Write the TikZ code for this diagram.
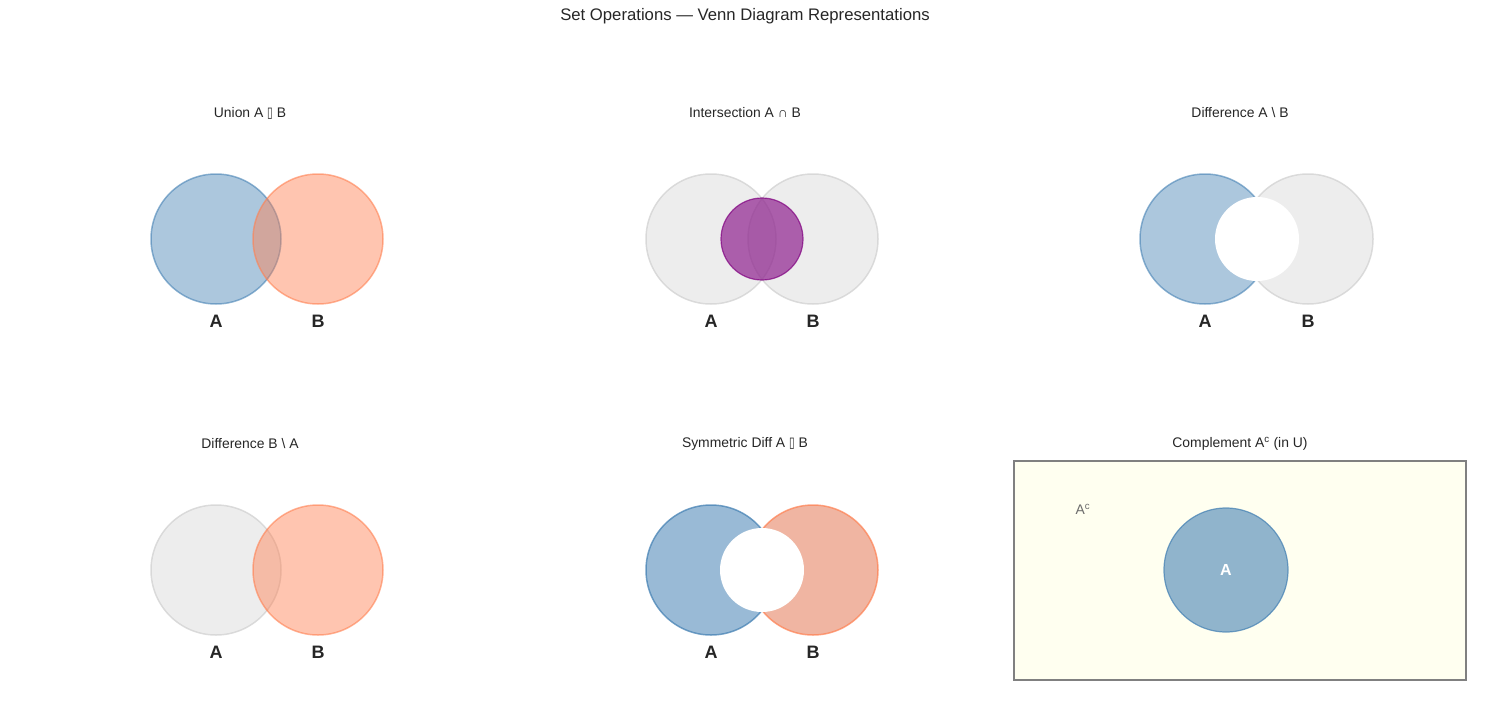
\documentclass[tikz,border=0pt]{standalone}
\usepackage{fontspec}
\setmainfont{Liberation Sans}
\newfontfamily\symbfont{DejaVu Sans}
\definecolor{steelblue}{RGB}{70,130,180}
\definecolor{coralred}{RGB}{255,127,80}
\definecolor{dsalmon}{RGB}{233,150,122}
\definecolor{lgray}{RGB}{211,211,211}
\definecolor{ivorybg}{RGB}{255,255,240}
\definecolor{mplpurple}{RGB}{128,0,128}
\definecolor{txtdark}{RGB}{38,38,38}
\newcommand{\tofu}{{\symbfont\raisebox{0pt}{\scalebox{0.75}[1.05]{▯}}}}
\begin{document}
\begin{tikzpicture}[x=1pt,y=1pt,yscale=-1,xscale=1,
  setA/.style={fill=steelblue,fill opacity=0.45,draw=steelblue,draw opacity=0.6,line width=1.5},
  setB/.style={fill=coralred,fill opacity=0.45,draw=coralred,draw opacity=0.6,line width=1.5},
  setAdark/.style={fill=steelblue,fill opacity=0.55,draw=steelblue,draw opacity=0.75,line width=1.5},
  setBdark/.style={fill=dsalmon,fill opacity=0.7,draw=coralred,draw opacity=0.7,line width=1.5},
  setoff/.style={fill=lgray,fill opacity=0.4,draw=lgray,draw opacity=0.8,line width=1.5},
  hole/.style={fill=white},
  panelttl/.style={text=txtdark,inner sep=0pt,font=\fontsize{13.9}{16}\selectfont},
  setlbl/.style={text=txtdark,inner sep=0pt,font=\fontsize{18}{20}\selectfont\bfseries},
]
\useasboundingbox (0,0) rectangle (1489,704);

% Title
\node[panelttl,font=\fontsize{16.7}{19}\selectfont] (maintitle) at (745,16) {Set Operations — Venn Diagram Representations};

%Shape: Union
\draw[setA] (216,239) circle (65);
\draw[setB] (318,239) circle (65);
\node[panelttl] (ttlunion) at (250,113) {Union A \tofu{} B};
\node[setlbl] (unionA) at (216,321) {A};
\node[setlbl] (unionB) at (318,321) {B};

%Shape: Intersection
\draw[setoff] (711,239) circle (65);
\draw[setoff] (813,239) circle (65);
\draw[fill=mplpurple,fill opacity=0.6,draw=mplpurple,draw opacity=0.7,line width=1.2] (762,239) circle (41);
\node[panelttl] (ttlinter) at (745,113) {Intersection A ∩ B};
\node[setlbl] (interA) at (711,321) {A};
\node[setlbl] (interB) at (813,321) {B};

%Shape: Difference A \ B
\draw[setA] (1205,239) circle (65);
\draw[setoff] (1308,239) circle (65);
\fill[hole] (1257,239) circle (42);
\node[panelttl] (ttldiffab) at (1240,113) {Difference A \textbackslash{} B};
\node[setlbl] (diffabA) at (1205,321) {A};
\node[setlbl] (diffabB) at (1308,321) {B};

%Shape: Difference B \ A
\draw[setoff] (216,570) circle (65);
\draw[setB] (318,570) circle (65);
\node[panelttl] (ttldiffba) at (250,444) {Difference B \textbackslash{} A};
\node[setlbl] (diffbaA) at (216,652) {A};
\node[setlbl] (diffbaB) at (318,652) {B};

%Shape: Symmetric difference
\draw[setAdark] (711,570) circle (65);
\draw[setBdark] (813,570) circle (65);
\fill[hole] (762,570) circle (42);
\node[panelttl] (ttlsym) at (745,444) {Symmetric Diff A \tofu{} B};
\node[setlbl] (symA) at (711,652) {A};
\node[setlbl] (symB) at (813,652) {B};

%Shape: Complement
\draw[fill=ivorybg,draw=gray,line width=1.5] (1014,461) rectangle (1466,680);
\draw[fill=steelblue,fill opacity=0.6,draw=steelblue,draw opacity=0.75,line width=1.2] (1226,570) circle (62);
\node[setlbl,text=white,font=\fontsize{16}{18}\selectfont\bfseries] (compA) at (1226,570) {A};
\node[panelttl,text=gray!85!black] (compAc) at (1083,509) {A\textsuperscript{c}};
\node[panelttl] (ttlcomp) at (1240,444) {Complement A\textsuperscript{c} (in U)};

\end{tikzpicture}
\end{document}
